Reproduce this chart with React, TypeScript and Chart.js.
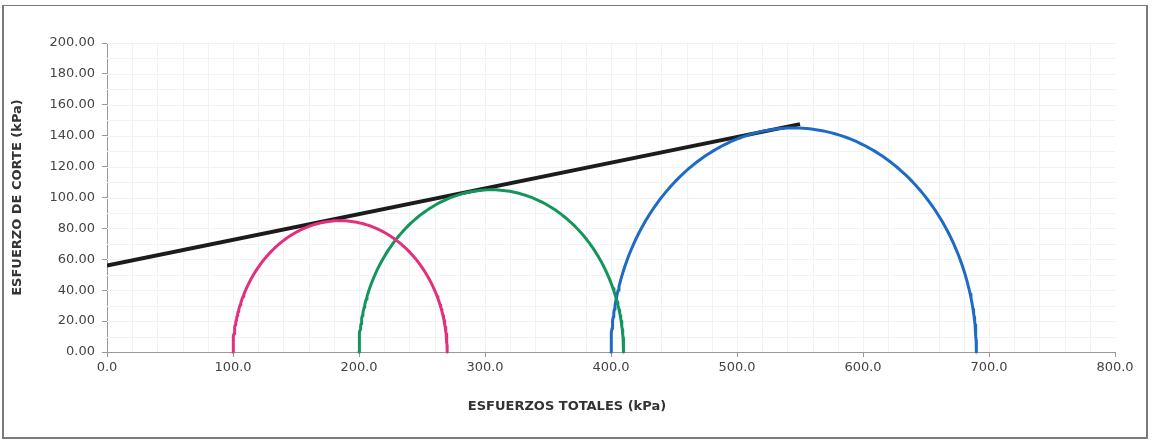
import React, { useEffect, useRef } from "react";
import { Chart, registerables } from "chart.js";

Chart.register(...registerables);

// Mohr circles: minor and major principal stresses (kPa)
const sigma3 = [100, 200, 400];
const sigma1 = [270, 410, 690];
const circleColors = ["#e3307c", "#14955c", "#1e6ac4"];
// Failure envelope (kPa)
const envelopeX = [0, 550];
const envelopeY = [56, 147.5];

const xTicksMax = 800;
const yTicksMax = 200;
const xTitle = "ESFUERZOS TOTALES (kPa)";
const yTitle = "ESFUERZO DE CORTE (kPa)";

function mohrPoints(s3: number, s1: number) {
  const c = (s1 + s3) / 2;
  const r = (s1 - s3) / 2;
  const pts: { x: number; y: number }[] = [];
  for (let a = 180; a >= 0; a -= 1) {
    const t = (a * Math.PI) / 180;
    pts.push({ x: c + r * Math.cos(t), y: r * Math.sin(t) });
  }
  return pts;
}

const FONT = "'DejaVu Sans', sans-serif";

const minorGrid = {
  id: "minorGrid",
  beforeDatasetsDraw(chart: any) {
    const { ctx, chartArea, scales } = chart;
    ctx.save();
    ctx.strokeStyle = "#f2f2f2";
    ctx.lineWidth = 1;
    for (let v = 20; v < xTicksMax; v += 20) {
      const px = Math.round(scales.x.getPixelForValue(v)) + 0.5;
      ctx.beginPath();
      ctx.moveTo(px, chartArea.top);
      ctx.lineTo(px, chartArea.bottom);
      ctx.stroke();
    }
    for (let v = 10; v <= yTicksMax; v += 10) {
      const py = Math.round(scales.y.getPixelForValue(v)) + 0.5;
      ctx.beginPath();
      ctx.moveTo(chartArea.left, py);
      ctx.lineTo(chartArea.right, py);
      ctx.stroke();
    }
    ctx.restore();
  },
};

const xTitlePlugin = {
  id: "xTitlePlugin",
  afterDraw(chart: any) {
    const { ctx, chartArea } = chart;
    ctx.save();
    ctx.font = `bold 13px ${FONT}`;
    ctx.fillStyle = "#333";
    ctx.textAlign = "center";
    ctx.textBaseline = "middle";
    ctx.fillText(xTitle, (chartArea.left + chartArea.right) / 2 - 44, chartArea.bottom + 55);
    ctx.restore();
  },
};

export default function App() {
  const ref = useRef<HTMLCanvasElement>(null);
  useEffect(() => {
    if (!ref.current) return;
    const datasets: any[] = sigma3.map((s3, i) => ({
      label: `Círculo ${i + 1}`,
      data: mohrPoints(s3, sigma1[i]),
      borderColor: circleColors[i],
      borderWidth: 3,
      borderJoinStyle: "round",
      borderCapStyle: "round",
      pointRadius: 0,
      showLine: true,
      fill: false,
      clip: false,
    }));
    datasets.push({
      label: "Envolvente",
      data: envelopeX.map((x, i) => ({ x, y: envelopeY[i] })),
      borderColor: "#1c1c1c",
      borderWidth: 4,
      pointRadius: 0,
      showLine: true,
      fill: false,
    });
    const chart = new Chart(ref.current, {
      type: "scatter",
      data: { datasets },
      plugins: [minorGrid, xTitlePlugin],
      options: {
        animation: false,
        responsive: false,
        layout: { padding: { left: 0, top: 43, right: 39, bottom: 0 } },
        plugins: { legend: { display: false }, tooltip: { enabled: false } },
        scales: {
          x: {
            type: "linear",
            min: 0,
            max: xTicksMax,
            afterFit: (s: any) => {
              s.height = 91;
            },
            ticks: {
              stepSize: 100,
              callback: (v: any) => Number(v).toFixed(1),
              font: { family: FONT, size: 13 },
              color: "#444",
              padding: 3,
              maxRotation: 0,
            },
            grid: { drawOnChartArea: false, drawTicks: true, tickLength: 5, color: "#999" },
            border: { display: true, color: "#999", width: 1 },
          },
          y: {
            type: "linear",
            min: 0,
            max: yTicksMax,
            afterFit: (s: any) => {
              s.width = 107;
            },
            ticks: {
              stepSize: 20,
              callback: (v: any) => Number(v).toFixed(2),
              font: { family: FONT, size: 13 },
              color: "#444",
              padding: 7,
            },
            grid: { drawOnChartArea: false, drawTicks: true, tickLength: 5, color: "#999" },
            border: { display: true, color: "#999", width: 1 },
            title: {
              display: true,
              text: yTitle,
              font: { family: FONT, size: 13, weight: "bold" },
              color: "#333",
              padding: { top: 10, bottom: 0 },
            },
          },
        },
      },
    });
    return () => chart.destroy();
  }, []);
  return (
    <div style={{ position: "absolute", left: 0, top: 0, width: 1154, height: 443, background: "#fff" }}>
      <div
        style={{
          position: "absolute",
          left: 2,
          top: 5,
          width: 1146,
          height: 434,
          border: "2px solid #7a7a7a",
          borderTopWidth: 1,
          boxSizing: "border-box",
        }}
      />
      <canvas ref={ref} width={1154} height={443} style={{ position: "absolute", left: 0, top: 0 }} />
    </div>
  );
}
